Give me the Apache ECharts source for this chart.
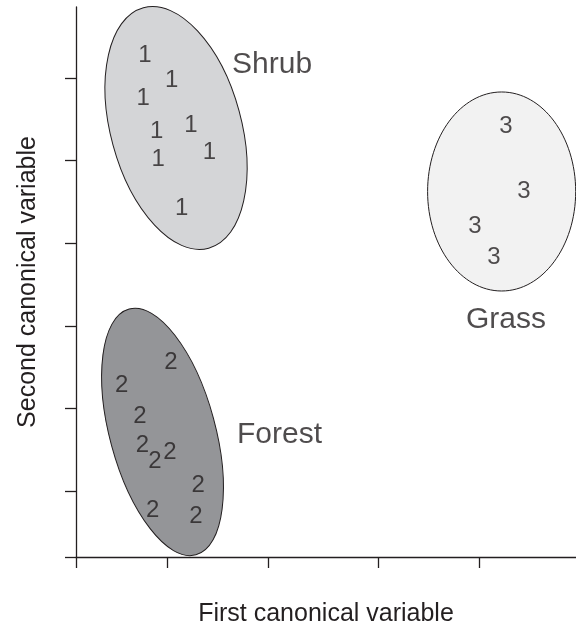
<!DOCTYPE html>
<html>
<head>
<meta charset="utf-8">
<script src="https://cdn.jsdelivr.net/npm/echarts@6/dist/echarts.min.js"></script>
<style>html,body{margin:0;padding:0;background:#fff}#c{width:576px;height:628px}</style>
</head>
<body>
<div id="c"></div>
<script>
// ---- data (canonical variable scores) ----
const shrubX = [0.788, 1.045, 0.772, 0.901, 1.231, 0.916, 1.407, 1.141];
const shrubY = [6.278, 5.976, 5.754, 5.350, 5.431, 5.016, 5.096, 4.423];
const forestX = [1.038, 0.564, 0.740, 0.763, 0.885, 1.029, 1.301, 0.863, 1.279];
const forestY = [2.553, 2.283, 1.900, 1.557, 1.355, 1.464, 1.073, 0.770, 0.689];
const grassX = [4.260, 4.433, 3.962, 4.144];
const grassY = [5.419, 4.624, 4.200, 3.824];

// group ellipses: centre x, centre y, semi-axis (y units), semi-axis (x units), tilt (deg)
const groupNames = ['Shrub', 'Forest', 'Grass'];
const groupCodes = ['1', '2', '3'];
const ellCX = [1.087, 0.957, 4.218];
const ellCY = [5.395, 1.714, 4.626];
const ellA = [1.508, 1.542, 1.205];
const ellB = [0.628, 0.507, 0.712];
const ellRot = [15.2, 15.2, 0];
const groupFill = ['#d4d5d7', '#949598', '#f2f2f2'];
// group name anchors
const nameX = [1.625, 1.673, 3.875];
const nameY = [6.157, 1.678, 3.070];

const xTicks = [0.125, 1, 1.971, 3.029, 4];
const yTicks = [0.2, 1, 2, 3, 4, 5, 6];
const xMin = 0.125, xMax = 4.933, yMin = 0.2, yMax = 6.86;

const ink = '#231f20';
const font = '"Liberation Sans", Arial, Helvetica, sans-serif';

function pts(xs, ys) { return xs.map((x, i) => [x, ys[i]]); }

const ellData = groupNames.map((n, i) => [ellCX[i], ellCY[i], ellA[i], ellB[i], ellRot[i]]);

const chart = echarts.init(document.getElementById('c'), null, { renderer: 'canvas' });
chart.setOption({
  animation: false,
  grid: { left: 76, right: 0, top: 7, bottom: 71, containLabel: false, outerBoundsMode: 'none' },
  xAxis: {
    type: 'value', min: xMin, max: xMax,
    axisLine: { show: true, lineStyle: { color: ink, width: 1.3 } },
    axisTick: { show: true, length: 11, inside: false, customValues: xTicks, lineStyle: { color: ink, width: 1.3 } },
    axisLabel: { show: false },
    splitLine: { show: false },
    name: 'First canonical variable', nameLocation: 'middle', nameGap: 45,
    nameTextStyle: { fontFamily: font, fontSize: 25, color: ink }
  },
  yAxis: {
    type: 'value', min: yMin, max: yMax,
    axisLine: { show: true, lineStyle: { color: ink, width: 1.3 } },
    axisTick: { show: true, length: 11, inside: false, customValues: yTicks, lineStyle: { color: ink, width: 1.3 } },
    axisLabel: { show: false },
    splitLine: { show: false },
    name: 'Second canonical variable', nameLocation: 'middle', nameGap: 35, nameRotate: 90,
    nameTextStyle: { fontFamily: font, fontSize: 25, color: ink }
  },
  series: [
    {
      type: 'custom', z: 1,
      data: ellData,
      renderItem: function (params, api) {
        const c = api.coord([api.value(0), api.value(1)]);
        const ry = api.size([0, api.value(2)])[1];
        const rx = api.size([api.value(3), 0])[0];
        return {
          type: 'ellipse', x: c[0], y: c[1], rotation: api.value(4) * Math.PI / 180,
          shape: { cx: 0, cy: 0, rx: rx, ry: ry },
          style: { fill: groupFill[params.dataIndex], stroke: ink, lineWidth: 1 }
        };
      }
    },
    ...[[shrubX, shrubY], [forestX, forestY], [grassX, grassY]].map((g, i) => ({
      type: 'scatter', z: 3, symbolSize: 0.1,
      itemStyle: { color: 'rgba(0,0,0,0)' },
      data: pts(g[0], g[1]),
      label: { show: true, position: 'inside', formatter: groupCodes[i], fontFamily: font, fontSize: 24, color: ink },
      emphasis: { disabled: true }, silent: true
    })),
    {
      type: 'scatter', z: 3, symbolSize: 0.1,
      itemStyle: { color: 'rgba(0,0,0,0)' },
      data: groupNames.map((n, i) => ({ value: [nameX[i], nameY[i]], name: n })),
      label: { show: true, position: 'right', distance: 0, formatter: p => p.name, fontFamily: font, fontSize: 30, color: ink },
      emphasis: { disabled: true }, silent: true
    }
  ]
});
</script>
</body>
</html>
